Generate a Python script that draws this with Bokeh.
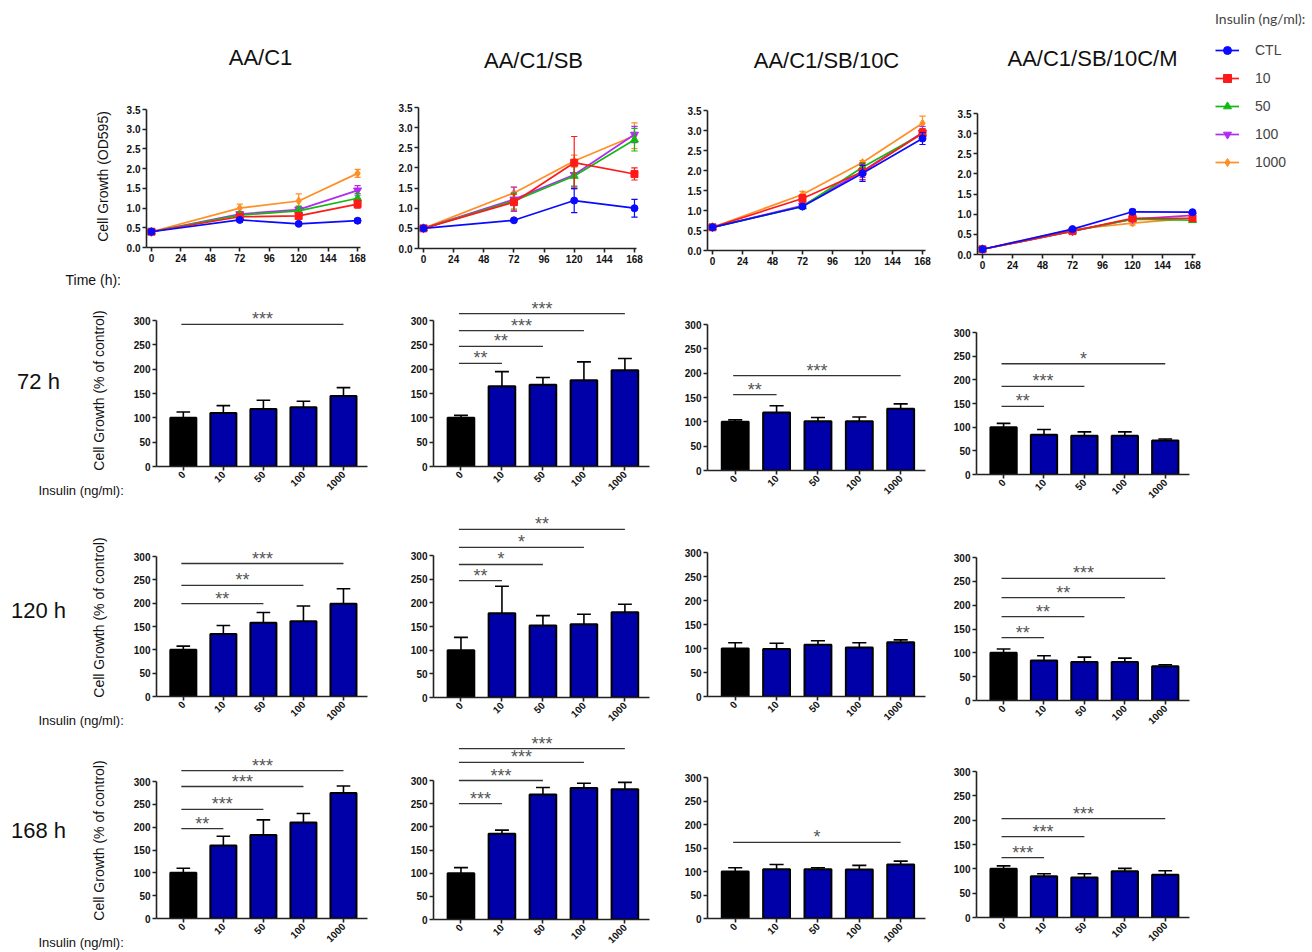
import math
from bokeh.plotting import figure
from bokeh.layouts import column, row
from bokeh.models import (FixedTicker, NumeralTickFormatter, Legend, LegendItem, Range1d)
from bokeh.core.properties import value
from bokeh.embed import file_html
from bokeh.resources import INLINE

# ---------------------------------------------------------------- data
treatments = ["AA/C1", "AA/C1/SB", "AA/C1/SB/10C", "AA/C1/SB/10C/M"]
time_h = [0, 72, 120, 168]
time_ticks = [0, 24, 48, 72, 96, 120, 144, 168]
groups = ["CTL", "10", "50", "100", "1000"]
dose_labels = ["0", "10", "50", "100", "1000"]
timepoints = ["72 h", "120 h", "168 h"]

# OD595 growth curves, one row per insulin group (CTL, 10, 50, 100, 1000)
od_aa_c1 = [[0.40, 0.70, 0.60, 0.68], [0.40, 0.78, 0.80, 1.10], [0.40, 0.82, 0.93, 1.25],
            [0.40, 0.85, 0.96, 1.45], [0.40, 1.00, 1.18, 1.88]]
od_aa_c1_err = [[0.06, 0.05, 0.03, 0.05], [0.03, 0.05, 0.07, 0.10], [0.03, 0.08, 0.12, 0.12],
                [0.03, 0.06, 0.08, 0.12], [0.03, 0.10, 0.18, 0.10]]
od_sb = [[0.50, 0.70, 1.19, 1.00], [0.50, 1.15, 2.13, 1.85], [0.50, 1.18, 1.80, 2.70],
         [0.50, 1.22, 1.83, 2.83], [0.50, 1.38, 2.17, 2.80]]
od_sb_err = [[0.02, 0.03, 0.30, 0.22], [0.02, 0.20, 0.65, 0.15], [0.02, 0.20, 0.25, 0.28],
             [0.02, 0.30, 0.30, 0.20], [0.02, 0.15, 0.15, 0.32]]
od_10c = [[0.58, 1.10, 1.93, 2.80], [0.58, 1.30, 1.97, 2.93], [0.58, 1.10, 2.08, 2.92],
          [0.58, 1.12, 1.98, 2.95], [0.58, 1.40, 2.20, 3.18]]
od_10c_err = [[0.03, 0.05, 0.20, 0.15], [0.03, 0.10, 0.20, 0.12], [0.03, 0.05, 0.12, 0.10],
              [0.03, 0.06, 0.15, 0.15], [0.03, 0.08, 0.05, 0.18]]
od_m = [[0.13, 0.63, 1.06, 1.05], [0.13, 0.58, 0.90, 0.90], [0.13, 0.58, 0.88, 0.85],
        [0.13, 0.58, 0.88, 0.97], [0.13, 0.62, 0.78, 0.90]]
od_m_err = [[0.02, 0.04, 0.06, 0.03], [0.02, 0.03, 0.06, 0.04], [0.02, 0.03, 0.05, 0.04],
            [0.02, 0.03, 0.05, 0.04], [0.02, 0.04, 0.05, 0.04]]

# % of control per treatment (rows) and dose (columns)
pct_72h = [[100, 110, 118, 122, 145], [100, 165, 168, 177, 198],
           [100, 119, 101, 101, 127], [100, 84, 82, 82, 72]]
pct_72h_err = [[12, 15, 18, 12, 17], [5, 30, 15, 38, 24],
               [4, 14, 8, 9, 10], [8, 11, 8, 8, 3]]
pct_120h = [[100, 134, 158, 161, 199], [100, 178, 152, 155, 180],
            [100, 99, 108, 102, 113], [100, 84, 81, 81, 72]]
pct_120h_err = [[8, 18, 22, 33, 32], [27, 57, 21, 21, 17],
                [12, 12, 8, 10, 5], [8, 10, 10, 8, 3]]
pct_168h = [[100, 160, 183, 210, 275], [100, 185, 270, 284, 281],
            [100, 105, 105, 104, 115], [100, 85, 82, 95, 88]]
pct_168h_err = [[10, 20, 33, 20, 15], [12, 8, 15, 10, 15],
                [8, 10, 3, 9, 7], [6, 5, 8, 6, 8]]

# significance brackets vs. control: (dose index, bracket height, stars)
sig_72h = [[(4, 292, "***")],
           [(1, 212, "**"), (2, 247, "**"), (3, 279, "***"), (4, 314, "***")],
           [(1, 156, "**"), (4, 195, "***")],
           [(1, 144, "**"), (2, 186, "***"), (4, 234, "*")]]
sig_120h = [[(2, 199, "**"), (3, 238, "**"), (4, 285, "***")],
            [(1, 247, "**"), (2, 281, "*"), (3, 317, "*"), (4, 355, "**")],
            [],
            [(1, 132, "**"), (2, 176, "**"), (3, 216, "**"), (4, 256, "***")]]
sig_168h = [[(1, 197, "**"), (2, 239, "***"), (3, 289, "***"), (4, 324, "***")],
            [(1, 250, "***"), (2, 300, "***"), (3, 339, "***"), (4, 369, "***")],
            [(4, 162, "*")],
            [(1, 123, "***"), (2, 166, "***"), (4, 203, "***")]]

od_means = [od_aa_c1, od_sb, od_10c, od_m]
od_errs = [od_aa_c1_err, od_sb_err, od_10c_err, od_m_err]
pct_means = [pct_72h, pct_120h, pct_168h]
pct_errs = [pct_72h_err, pct_120h_err, pct_168h_err]
sigs = [sig_72h, sig_120h, sig_168h]

# ---------------------------------------------------------------- styling
series_colors = ["#0a0aff", "#ff1a1a", "#14b814", "#b02cf0", "#ff8f24"]
series_markers = ["circle", "square", "triangle", "inverted_triangle", "diamond"]
series_sizes = [7, 7, 8, 8, 8]
BAR_BLUE = "#0000a8"
FONT = "Liberation Sans"

# page geometry (pixels)
TITLE_H = 95
LEFT_W_TOP = 122
LINE_COLS = [(122, 395), (395, 680), (680, 950), (950, 1205)]
BAR_COLS = [(126, 395), (395, 680), (680, 950), (950, 1312)]
BAR_ROWS = [(290, 505), (505, 733), (733, 952)]
# growth-curve panels: px of t=0, px of t=168, py of 0.0, py of 3.5
LINE_GEOM = [(151, 357, 247, 109), (422, 634, 248, 107),
             (712, 922, 250, 110), (982, 1192, 254, 113)]
# bar panels: first bar centre, bar pitch (per column)
BAR_X = [(183, 40.0), (460, 41.0), (735, 41.25), (1003, 40.4)]
# bar panels: py of 0 and py of 300 (per row, per column)
BAR_Y = [[(466, 320), (466, 320), (470, 324), (474, 332)],
         [(696, 556), (697, 555), (696, 552), (700, 557)],
         [(918, 781), (919, 780), (918, 777), (917, 771)]]


def make_fig(xspan, yspan, L, R, T, B, xr, yr):
    x0, x1 = xspan
    y0, y1 = yspan
    L, R, T, B = round(L), round(R), round(T), round(B)
    p = figure(width=x1 - x0, height=y1 - y0,
               x_range=Range1d(*xr), y_range=Range1d(*yr),
               output_backend="svg", toolbar_location=None,
               min_border_left=L - x0, min_border_right=x1 - R,
               min_border_top=T - y0, min_border_bottom=y1 - B)
    p.outline_line_color = None
    p.xgrid.visible = False
    p.ygrid.visible = False
    p.background_fill_color = "white"
    p.border_fill_color = "white"
    for ax in (p.xaxis[0], p.yaxis[0]):
        ax.axis_line_width = 1.6
        ax.axis_line_color = "#222222"
        ax.major_tick_line_width = 1.6
        ax.major_tick_line_color = "#222222"
        ax.major_tick_out = 4
        ax.major_tick_in = 0
        ax.minor_tick_line_color = None
        ax.major_label_text_font = FONT
        ax.major_label_text_font_style = "bold"
        ax.major_label_text_font_size = "10px"
        ax.major_label_text_color = "#111111"
        ax.major_label_standoff = 2
    return p


def text_fig(w, h):
    # plain canvas for free-standing labels; coordinates are pixels
    p = figure(width=w, height=h, x_range=Range1d(0, w), y_range=Range1d(0, h),
               x_axis_type=None, y_axis_type=None, output_backend="svg",
               toolbar_location=None, min_border=0)
    p.outline_line_color = None
    p.background_fill_color = "white"
    p.border_fill_color = "white"
    return p


def put_text(p, top, px, py, text, size, align="left", angle=0.0, font=FONT):
    h = p.height
    p.text(x=[px], y=[h - (py - top)], text=[text], angle=angle,
           text_align=align, text_baseline="middle", text_color="#111111",
           text_font=value(font), text_font_size=f"{size}px")


# ---------------------------------------------------------------- titles
title_fig = text_fig(1205, TITLE_H)
title_pos = [(260, 57), (533, 60), (826, 60), (1092, 58)]
for name, (tx, ty) in zip(treatments, title_pos):
    put_text(title_fig, 0, tx, ty, name, 22, align="center")

# ---------------------------------------------------------------- growth curves
SPLIT_TOP = 270
left_a = text_fig(LEFT_W_TOP, SPLIT_TOP - TITLE_H)
put_text(left_a, TITLE_H, 102, 176, "Cell Growth (OD595)", 14, align="center", angle=math.pi / 2)
left_b = text_fig(LEFT_W_TOP, 290 - SPLIT_TOP)
put_text(left_b, SPLIT_TOP, 65, 279, "Time (h):", 14)

line_figs = []
for ci in range(4):
    px0, px168, py0, py35 = LINE_GEOM[ci]
    sx = (px168 - px0) / 168.0
    xr = (-4, 172)
    p = make_fig(LINE_COLS[ci], (TITLE_H, 290), px0 + xr[0] * sx, px0 + xr[1] * sx,
                 py35, py0, xr, (0, 3.5))
    p.xaxis.ticker = FixedTicker(ticks=time_ticks)
    p.xaxis.bounds = (-4, 170)
    p.yaxis.ticker = FixedTicker(ticks=[0, 0.5, 1, 1.5, 2, 2.5, 3, 3.5])
    p.yaxis.formatter = NumeralTickFormatter(format="0.0")
    means, errs = od_means[ci], od_errs[ci]
    for gi in reversed(range(len(groups))):
        col = series_colors[gi]
        m = means[gi]
        e = errs[gi]
        lo = [a - b for a, b in zip(m, e)]
        hi = [a + b for a, b in zip(m, e)]
        p.segment(x0=time_h, y0=lo, x1=time_h, y1=hi, line_color=col, line_width=1.2)
        p.segment(x0=[t - 2.5 for t in time_h], y0=hi, x1=[t + 2.5 for t in time_h], y1=hi,
                  line_color=col, line_width=1.2)
        p.segment(x0=[t - 2.5 for t in time_h], y0=lo, x1=[t + 2.5 for t in time_h], y1=lo,
                  line_color=col, line_width=1.2)
        p.line(time_h, m, line_color=col, line_width=1.7)
        p.scatter(time_h, m, marker=series_markers[gi], size=series_sizes[gi],
                  fill_color=col, line_color=col)
    line_figs.append(p)

# ---------------------------------------------------------------- legend
# the key's own panel: it repeats the last treatment's series, kept outside its visible x span
legend_fig = text_fig(1312 - 1205, 290)
legend_fig.x_range = Range1d(400, 507)
items = []
for gi, g in enumerate(groups):
    lr = legend_fig.line(time_h, od_m[gi], line_color=series_colors[gi], line_width=1.7)
    mr = legend_fig.scatter(time_h, od_m[gi], marker=series_markers[gi], size=series_sizes[gi],
                            fill_color=series_colors[gi], line_color=series_colors[gi])
    items.append(LegendItem(label=g, renderers=[lr, mr]))
legend = Legend(items=items, location="top_left", title="Insulin (ng/ml):",
                title_text_font="Lato", title_text_font_style="normal",
                title_text_font_size="14px", title_standoff=13,
                label_text_font=FONT, label_text_font_size="14px",
                label_standoff=16, glyph_width=24, glyph_height=20, label_height=20,
                spacing=8, padding=4, margin=10, border_line_color=None,
                background_fill_alpha=0)
legend_fig.add_layout(legend)

line_row = row(column(left_a, left_b), *[column(f) for f in line_figs])
top_block = row(column(title_fig, line_row), legend_fig)

# ---------------------------------------------------------------- bar panels
bar_x = [1, 2, 3, 4, 5]
bar_colors = ["black", BAR_BLUE, BAR_BLUE, BAR_BLUE, BAR_BLUE]
XR = (0.33, 5.6)
row_label_y = [381, 610, 830]
ylabel_y = [390, 617, 840]
insulin_label_y = [490, 720, 942]
split_y = [476, 706, 932]
bar_blocks = []
for ri in range(3):
    ytop, ybot = BAR_ROWS[ri]
    lw = BAR_COLS[0][0]
    upper = text_fig(lw, split_y[ri] - ytop)
    put_text(upper, ytop, 38, row_label_y[ri], timepoints[ri], 22, align="center")
    put_text(upper, ytop, 98, ylabel_y[ri], "Cell Growth (% of control)", 14,
             align="center", angle=math.pi / 2)
    lower = text_fig(lw, ybot - split_y[ri])
    put_text(lower, split_y[ri], 38, insulin_label_y[ri], "Insulin (ng/ml):", 13)
    figs = [column(upper, lower)]
    for ci in range(4):
        c1, pitch = BAR_X[ci]
        py0, py300 = BAR_Y[ri][ci]
        T = ytop + 3
        ymax = (py0 - T) / (py0 - py300) * 300.0
        L = c1 + (XR[0] - 1) * pitch
        R = c1 + (XR[1] - 1) * pitch
        p = make_fig(BAR_COLS[ci], BAR_ROWS[ri], L, R, T, py0, XR, (0, ymax))
        p.yaxis.ticker = FixedTicker(ticks=[0, 50, 100, 150, 200, 250, 300])
        p.yaxis.bounds = (0, 300)
        p.xaxis.ticker = FixedTicker(ticks=bar_x)
        p.xaxis.major_label_overrides = {i + 1: s for i, s in enumerate(dose_labels)}
        p.xaxis.major_label_orientation = math.pi / 4
        p.xaxis.bounds = XR
        m = pct_means[ri][ci]
        e = pct_errs[ri][ci]
        top = [a + b for a, b in zip(m, e)]
        p.vbar(x=bar_x, top=m, width=0.65, fill_color=bar_colors,
               line_color="black", line_width=2)
        p.segment(x0=bar_x, y0=m, x1=bar_x, y1=top, line_color="black", line_width=1.6)
        p.segment(x0=[x - 0.17 for x in bar_x], y0=top, x1=[x + 0.17 for x in bar_x], y1=top,
                  line_color="black", line_width=1.6)
        brackets = sigs[ri][ci]
        if brackets:
            ends = [bar_x[k] for k, _, _ in brackets]
            hs = [h for _, h, _ in brackets]
            stars = [s for _, _, s in brackets]
            p.segment(x0=[0.95] * len(ends), y0=hs, x1=ends, y1=hs,
                      line_color="#333333", line_width=1.3)
            p.text(x=[(0.95 + x) / 2 for x in ends], y=hs, text=stars, y_offset=-5,
                   text_align="center", text_baseline="middle",
                   text_color="#555555", text_font=value(FONT), text_font_size="18px")
        figs.append(column(p))
    bar_blocks.append(row(*figs))

layout = column(top_block, *bar_blocks)
open("out.html", "w").write(file_html(layout, INLINE))
